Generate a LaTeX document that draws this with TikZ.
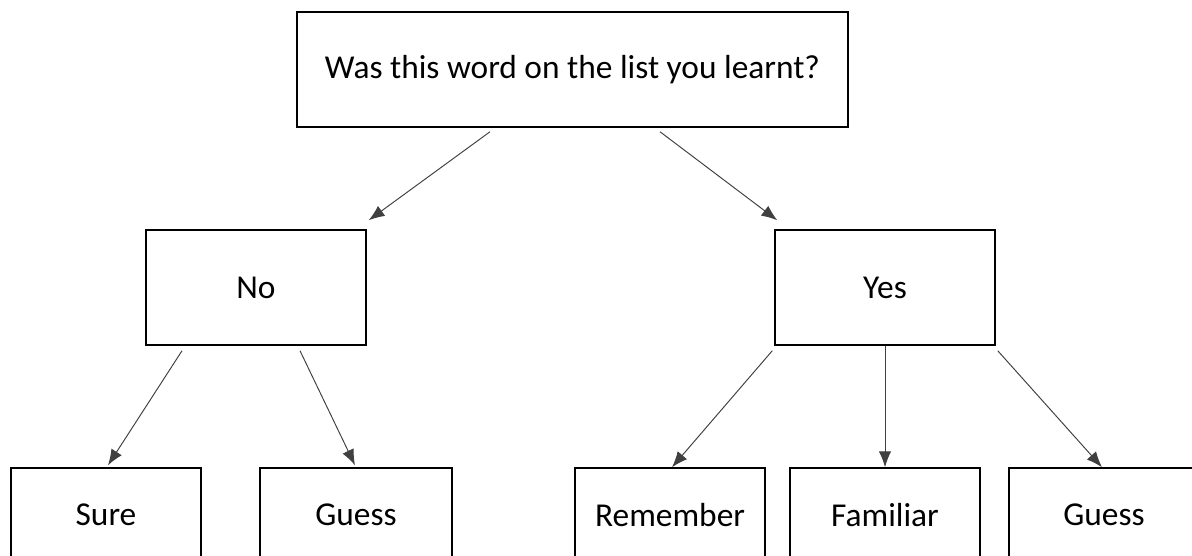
\documentclass[tikz,border=0pt]{standalone}
\usepackage{fontspec}
\setmainfont{Carlito}
\usetikzlibrary{calc,arrows.meta}

\tikzset{
	box/.style={draw, rectangle, line width=0.85pt, font=\fontsize{19}{23}\selectfont, inner sep=0pt},
	arr/.style={draw=black!75, line width=0.55pt, -{Latex[length=9pt,width=7pt]}}
}

\begin{document}
\begin{tikzpicture}[x=0.02cm, y=-0.02cm]
				\useasboundingbox (0,0) rectangle (1192,555);
				\clip (0,0) rectangle (1192,555);
				\node[box, minimum width=551*0.02cm, minimum height=115*0.02cm] (Q)at(572.5, 69.5) {Was this word on the list you learnt?};
				\node[box, minimum width=220*0.02cm, minimum height=115*0.02cm] (No)at(256, 287.5) {No};
				\node[box, minimum width=220*0.02cm, minimum height=115*0.02cm] (Yes)at(885, 287.5) {Yes};
				\node[box, minimum width=190*0.02cm, minimum height=94*0.02cm] (Sure)at(106, 515) {Sure};
				\node[box, minimum width=192*0.02cm, minimum height=94*0.02cm] (GuessN)at(356, 515) {Guess};
				\node[box, minimum width=190*0.02cm, minimum height=94*0.02cm] (Rem)at(670, 515) {Remember};
				\node[box, minimum width=190*0.02cm, minimum height=94*0.02cm] (Fam)at(885, 515) {Familiar};
				\node[box, minimum width=190*0.02cm, minimum height=94*0.02cm] (GuessY)at(1104, 515) {Guess};
				% question to the two answers
				\draw[arr] ($(Q.south)+(-82.5,4)$) -- ($(No.north east)+(2,-9)$);
				\draw[arr] ($(Q.south)+(87.5,4)$) -- ($(Yes.north west)+(3,-9)$);
				% answer "No"
				\draw[arr] ($(No.south)+(-74,5)$) -- ($(Sure.north)+(2,-2)$);
				\draw[arr] ($(No.south)+(44,5)$) -- ($(GuessN.north)+(-1,-2)$);
				% answer "Yes"
				\draw[arr] ($(Yes.south west)+(-2,5)$) -- ($(Rem.north)+(2,0)$);
				\draw[arr] (Yes.south) -- (Fam.north);
				\draw[arr] ($(Yes.south east)+(2,5)$) -- ($(GuessY.north)+(-2,0)$);
			\end{tikzpicture}
\end{document}
